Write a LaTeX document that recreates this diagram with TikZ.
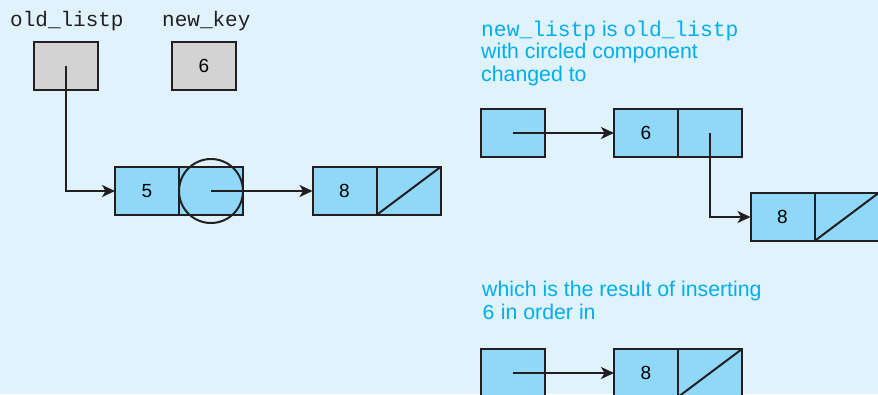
\documentclass[tikz,border=0pt]{standalone}
\usepackage{fontspec}
\setmainfont{Liberation Sans}
\setmonofont{Liberation Mono}
\usetikzlibrary{arrows.meta,positioning}
\definecolor{BgPanel}{RGB}{224,242,252}
\definecolor{CellBlue}{RGB}{143,216,248}
\definecolor{VarGray}{RGB}{211,211,212}
\definecolor{LineDark}{RGB}{35,31,32}
\definecolor{TextCyan}{RGB}{0,174,239}

\begin{document}
\begin{tikzpicture}[
	x=1pt, y=-1pt,
	% List cell style
	cell/.style={
		draw=LineDark,
		fill=CellBlue,
		line width=2pt,
		minimum width=64pt,
		minimum height=48pt,
		inner sep=0pt,
		outer sep=0pt,
		font=\fontsize{19}{19}\selectfont
	},
	% Variable box style
	var box/.style={
		cell,
		fill=VarGray
	},
	% Pointer style
	ptr/.style={
		draw=LineDark,
		line width=2pt,
		-{Stealth[length=13pt,width=12pt,inset=3.5pt]}
	},
	% Null slash style
	null/.style={
		draw=LineDark,
		line width=2pt
	},
	% Caption style
	caption/.style={
		anchor=base west,
		inner sep=0pt,
		align=left,
		text=TextCyan,
		font=\fontsize{21.3}{22.5}\selectfont
	},
	var label/.style={
		anchor=base west,
		inner sep=0pt,
		text=LineDark,
		font=\fontsize{21}{21}\ttfamily
	}
	]
	
	\clip (0,0) rectangle (878,394);
	\fill[BgPanel] (0,0) rectangle (878,394);
	
	% ================= VARIABLES =================
	\node[var label] (oldlbl) at (10,26) {old\_listp};
	\node[var label] (keylbl) at (162,26) {new\_key};
	
	\node[var box] (old) at (65.5,65.5) {};
	\node[var box] (key) at (204,65.5) {6};
	
	% ================= OLD LIST =================
	\node[cell] (n5) at (147,191) {5};
	\node[cell, right=0pt of n5] (n5p) {};
	\node[draw=LineDark, line width=2pt, circle, minimum size=64pt, inner sep=0pt] (circ) at (n5p.center) {};
	
	\node[cell] (n8) at (344.5,191) {8};
	\node[cell, right=0pt of n8] (n8p) {};
	
	\draw[ptr] (old.center) |- (n5.west);
	\draw[ptr] (n5p.center) -- (n8.west);
	\draw[null] (n8p.south west) -- (n8p.north east);
	
	% ================= NEW LIST =================
	\node[caption] (cap1) at (481,81) {\texttt{new\_listp} is \texttt{old\_listp}\\with circled component\\changed to};
	
	\node[cell] (h1) at (513,133) {};
	\node[cell] (r6) at (646,133) {6};
	\node[cell, right=0pt of r6] (r6p) {};
	\node[cell] (r8) at (782.5,217) {8};
	\node[cell, right=0pt of r8] (r8p) {};
	
	\draw[ptr] (h1.center) -- (r6.west);
	\draw[ptr] (r6p.center) |- (r8.west);
	\draw[null] (r8p.south west) -- (r8p.north east);
	
	% ================= RESULT LIST =================
	\node[caption] (cap2) at (482,319) {which is the result of inserting\\\texttt{6} in order in};
	
	\node[cell] (h2) at (513,373) {};
	\node[cell] (b8) at (646,373) {8};
	\node[cell, right=0pt of b8] (b8p) {};
	
	\draw[ptr] (h2.center) -- (b8.west);
	\draw[null] (b8p.south west) -- (b8p.north east);
	
\end{tikzpicture}
\end{document}
